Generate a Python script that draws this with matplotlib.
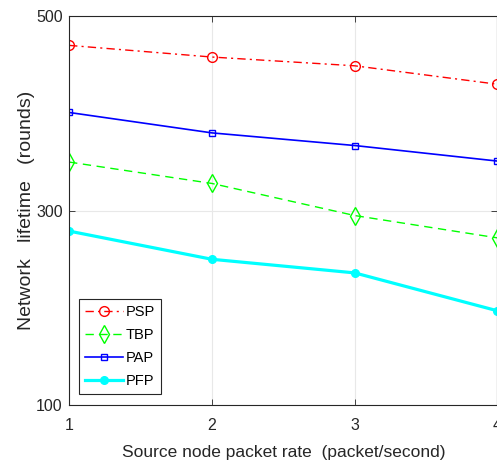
import matplotlib
matplotlib.use('Agg')
import matplotlib.pyplot as plt

plt.rcParams['font.family'] = ['Liberation Sans', 'DejaVu Sans']

rates = [1, 2, 3, 4]
psp = [470, 458, 449, 430]
tbp = [350, 328, 295, 272]
pap = [401, 380, 367, 351]
pfp = [279, 250, 236, 197]

yticks = [100, 300, 500]

fig = plt.figure(figsize=(4.97, 4.63), dpi=100)
ax = fig.add_axes([0.139, 0.125, 0.862, 0.840])

ax.plot(rates, psp, '-.', color='#ff0000', lw=1.0, marker='o', ms=7,
        mfc='none', mew=1.0, label='PSP', dashes=(6, 3, 1.5, 3))
ax.plot(rates, tbp, '--', color='#00ff00', lw=1.0, marker='d', ms=9,
        mfc='none', mew=1.0, label='TBP', dashes=(6, 4))
ax.plot(rates, pap, '-', color='#0000ff', lw=1.2, marker='s', ms=5,
        mfc='none', mew=1.0, label='PAP')
ax.plot(rates, pfp, '-', color='#00ffff', lw=2.3, marker='o', ms=5.5,
        label='PFP')

ax.set_xlim(1, 4)
ax.set_ylim(100, 500)
ax.set_xticks(rates)
ax.set_yticks(yticks)
ax.grid(True, color='#e8e8e8', lw=0.8)
ax.set_axisbelow(True)
ax.tick_params(direction='in', labelsize=11.5, colors='#262626', length=4,
               width=0.6, top=True, right=True)
ax.tick_params(axis='x', pad=9)
ax.tick_params(axis='y', pad=4.5)
for s in ax.spines.values():
    s.set_color('#262626')
    s.set_linewidth(0.8)

ax.set_xlabel('Source node packet rate  (packet/second)', fontsize=12.5,
              color='#262626', labelpad=9)
ax.set_ylabel('Network   lifetime   (rounds)', fontsize=14, color='#262626',
              labelpad=1)

leg = ax.legend(loc='lower left', bbox_to_anchor=(0.024, 0.028), fontsize=10.5,
                handlelength=2.6, handletextpad=0.2, borderpad=0.4,
                labelspacing=0.62, fancybox=False, framealpha=1,
                edgecolor='#262626', borderaxespad=0)
leg.get_frame().set_linewidth(0.8)

fig.savefig('out.png', dpi=100)
